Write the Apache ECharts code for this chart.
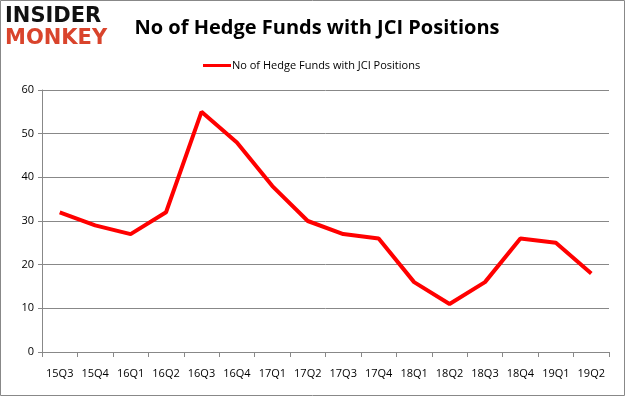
<!DOCTYPE html>
<html><head><meta charset="utf-8">
<script src="https://cdn.jsdelivr.net/npm/echarts@6/dist/echarts.min.js"></script>
<style>html,body{margin:0;padding:0;background:#fff}#c{width:626px;height:397px}</style>
</head><body><div id="c"></div>
<script>
const categories = ['15Q3','15Q4','16Q1','16Q2','16Q3','16Q4','17Q1','17Q2','17Q3','17Q4','18Q1','18Q2','18Q3','18Q4','19Q1','19Q2'];
const values = [32, 29, 27, 32, 55, 48, 38, 30, 27, 26, 16, 11, 16, 26, 25, 18];
const seriesName = 'No of Hedge Funds with JCI Positions';
const titleText = 'No of Hedge Funds with JCI Positions';

const chart = echarts.init(document.getElementById('c'));
chart.setOption({
  animation: false,
  backgroundColor: '#fff',
  title: {
    text: titleText, left: 312, top: 13, textAlign: 'center',
    textStyle: {fontFamily: 'Open Sans', fontWeight: 'bold', fontSize: 20, color: '#000'}
  },
  legend: {
    data: [seriesName], left: 198, top: 55, itemWidth: 28, itemHeight: 3, itemGap: 4,
    icon: 'rect',
    textStyle: {fontFamily: 'Open Sans', fontSize: 11, color: '#000', padding: [0,0,0,-4]}
  },
  graphic: [
    {type: 'rect', shape: {x: 0.5, y: 0.5, width: 624, height: 395}, style: {fill: 'none', stroke: '#888', lineWidth: 1}},
    {type: 'text', left: 5, top: 6, style: {text: 'INSIDER', fontFamily: 'DejaVu Sans', fontWeight: 'bold', fontSize: 21, fill: '#111'}},
    {type: 'text', left: 5, top: 28, style: {text: 'MONKEY', fontFamily: 'DejaVu Sans', fontWeight: 'bold', fontSize: 21, fill: '#d9442c'}}
  ],
  grid: {left: 42, right: 17, top: 90, bottom: 45},
  xAxis: {
    type: 'category', data: categories, boundaryGap: true,
    axisLine: {lineStyle: {color: '#888'}},
    axisTick: {show: true, alignWithLabel: false, interval: 0, length: 5, lineStyle: {color: '#888'}},
    axisLabel: {interval: 0, fontFamily: 'Open Sans', fontSize: 11, color: '#000', margin: 16}
  },
  yAxis: {
    type: 'value', min: 0, max: 60, interval: 10,
    axisLine: {show: true, lineStyle: {color: '#888'}},
    axisTick: {show: true, length: 4, lineStyle: {color: '#888'}},
    axisLabel: {fontFamily: 'Open Sans', fontSize: 11, color: '#000', margin: 8},
    splitLine: {lineStyle: {color: '#888', width: 1}}
  },
  series: [{
    name: seriesName, type: 'line', data: values, symbol: 'none',
    lineStyle: {color: '#ff0000', width: 4}, itemStyle: {color: '#ff0000'}
  }]
});
</script></body></html>
